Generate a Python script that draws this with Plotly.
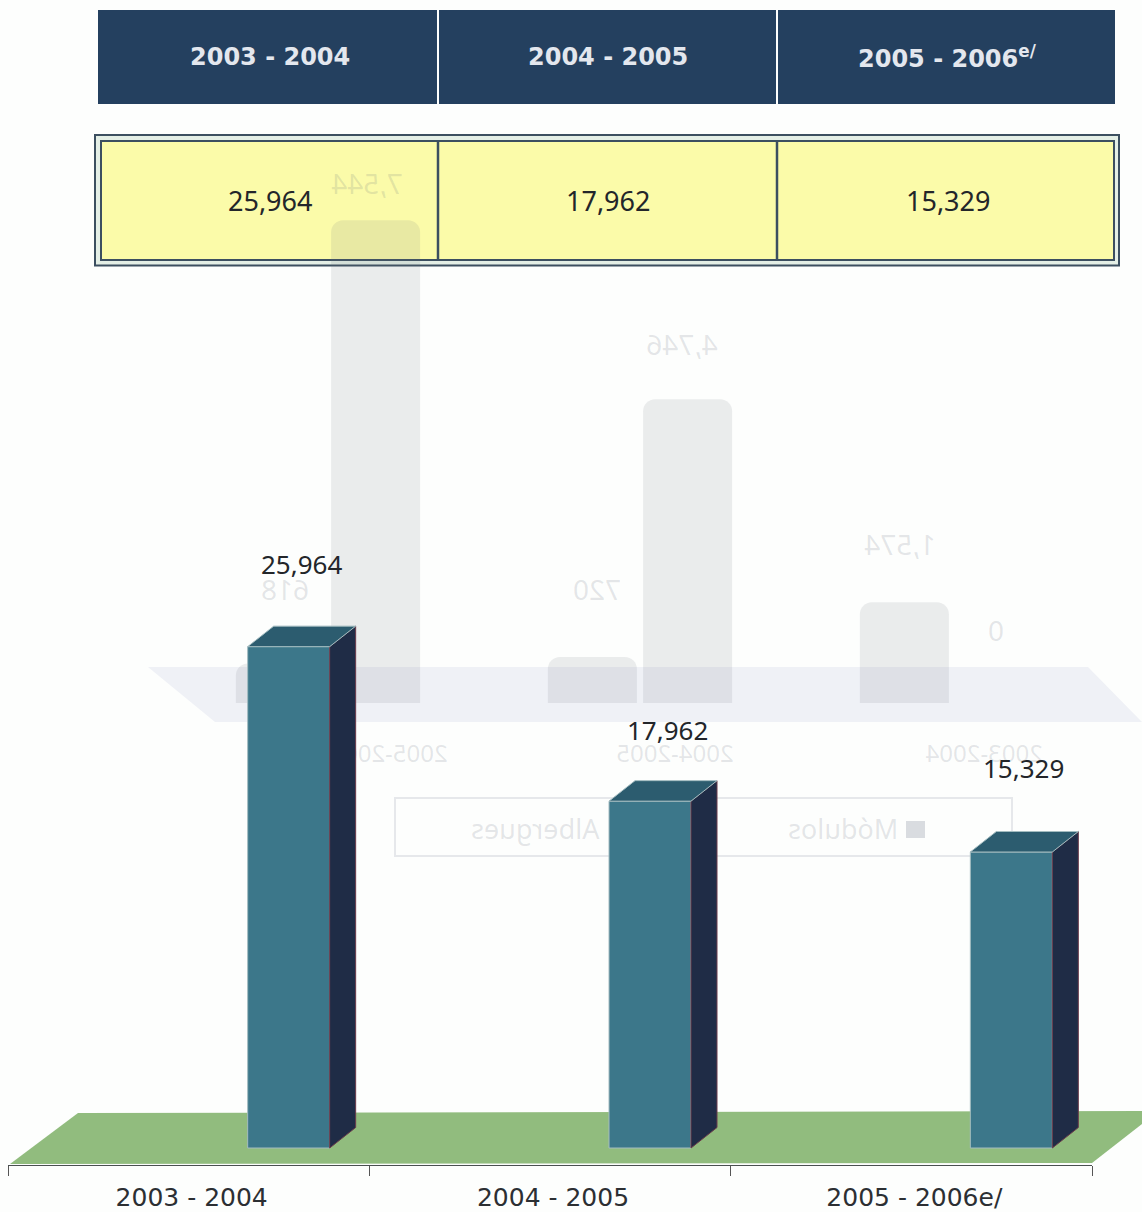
import plotly.graph_objects as go

# ---- data ----
CATEGORIES = ["2003 - 2004", "2004 - 2005", "2005 - 2006e/"]
HEADERS = ["2003 - 2004", "2004 - 2005", "2005 - 2006<sup>e/</sup>"]
VALUES = [25964, 17962, 15329]
VALUE_TEXT = ["25,964", "17,962", "15,329"]
# faint show-through of a mirrored chart on the back of the scanned page
GHOST_CATEGORIES = ["2003-2004", "2004-2005", "2005-2006"]
GHOST_MODULOS = [0, 4746, 7544]
GHOST_ALBERGUES = [1574, 720, 618]

W, H = 1142, 1212
def px(p): return p / W
def py(p): return 1 - p / H

# ---- style / geometry ----
FONT = "Noto Sans"
NAVY, YELLOW, RULE = "#24405f", "#fbfba9", "#3c4f60"
FRONT, TOP, SIDE = "#3c778a", "#2c5c6f", "#1f2c46"
EDGE, GREEN = "#a3bcc0", "#91bc7e"
GHOST_BAR = "rgba(105,115,125,0.13)"
GHOST_TEXT = "rgba(95,105,120,0.17)"

AX_L, AX_R, AX_Y, BASE_Y = 8, 1092, 1165, 1148     # main axis placement, px
UNIT_X = (AX_R - AX_L) / 3
K = 0.01931                                        # px per unit
BAR_W = 82 / UNIT_X
BAR_OFF = 59 / UNIT_X
DX, DY = 26 / UNIT_X, 20.5 / K                     # 3-D depth
LABEL_DX = [113 / UNIT_X, 117 / UNIT_X, 112 / UNIT_X]
LABEL_LIFT = [83, 71, 84]
TICK_SHIFT = 3 / UNIT_X

G_BASE, G_K, G_AX = 703, 0.064, 735                # ghost axes
G_X0, G_UNIT = 952, 312
G_W = 89 / G_UNIT
G_TICK_PX = [984, 675, 389]
G_MOD_LABEL_PX = [996, 682, 367]
G_ALB_LABEL_PX = [900, 597, 285]
G_MOD_LIFT = [69, 51, 33]
G_ALB_LIFT = [54, 64, 70]
def gx(p): return (G_X0 - p) / G_UNIT

fig = go.Figure()

# ---- ghost chart (drawn first, mirrored) ----
xg = list(range(3))
fig.add_trace(go.Bar(x=xg, y=GHOST_MODULOS, width=G_W, offset=-G_W - 0.01, marker=dict(color=GHOST_BAR, cornerradius=12, line_width=0), hoverinfo="skip", xaxis="x", yaxis="y", showlegend=False))
fig.add_trace(go.Bar(x=xg, y=GHOST_ALBERGUES, width=G_W, offset=0.01, marker=dict(color=GHOST_BAR, cornerradius=12, line_width=0), hoverinfo="skip", xaxis="x", yaxis="y", showlegend=False))
def ghost_labels(vals, label_px, lifts):
    fig.add_trace(go.Scatter(
        x=[gx(p) for p in label_px], y=[v + l / G_K for v, l in zip(vals, lifts)], mode="text",
        text=[f"{v:,}" for v in vals], textposition="middle center",
        textfont=dict(family=FONT, size=28, color=GHOST_TEXT),
        cliponaxis=False, hoverinfo="skip", xaxis="x", yaxis="y", showlegend=False))
ghost_labels(GHOST_MODULOS, G_MOD_LABEL_PX, G_MOD_LIFT)
ghost_labels(GHOST_ALBERGUES, G_ALB_LABEL_PX, G_ALB_LIFT)

# ---- main chart ----
X = list(range(3))
fig.add_trace(go.Bar(x=X, y=VALUES, width=BAR_W, offset=BAR_OFF,
                     marker=dict(color=FRONT, line=dict(color=EDGE, width=1)),
                     hoverinfo="skip", xaxis="x2", yaxis="y2", showlegend=False))
for i, v in zip(X, VALUES):
    l, r = i + BAR_OFF, i + BAR_OFF + BAR_W
    fig.add_trace(go.Scatter(x=[r, r + DX, r + DX, r, r], y=[0, DY, v + DY, v, 0], fill="toself",
                             fillcolor=SIDE, mode="lines", line=dict(color="#6b3b4b", width=1),
                             hoverinfo="skip", xaxis="x2", yaxis="y2", showlegend=False))
    fig.add_trace(go.Scatter(x=[l, r, r + DX, l + DX, l], y=[v, v, v + DY, v + DY, v], fill="toself",
                             fillcolor=TOP, mode="lines", line=dict(color=EDGE, width=1),
                             hoverinfo="skip", xaxis="x2", yaxis="y2", showlegend=False))

# ---- static page furniture ----
def rect(x0, y0, x1, y1, fill, line="rgba(0,0,0,0)", lw=0, layer="below"):
    return dict(type="rect", xref="paper", yref="paper", x0=px(x0), x1=px(x1), y0=py(y0), y1=py(y1),
                fillcolor=fill, line=dict(color=line, width=lw), layer=layer)

def poly(points, fill):
    d = "M " + " L ".join(f"{px(a):.5f},{py(b):.5f}" for a, b in points) + " Z"
    return dict(type="path", xref="paper", yref="paper", path=d, fillcolor=fill, line_width=0, layer="below")

shapes = [
    poly([(148, 667), (1088, 667), (1142, 722), (215, 722)], "#eff1f6"),      # ghost floor
    rect(395, 798, 1012, 856, "rgba(0,0,0,0)", "#e6e8eb", 2),                 # ghost legend
    rect(906, 821, 925, 838, "#d9dce0"),
    poly([(10, 1164), (78, 1113), (1142, 1111), (1142, 1124), (1092, 1163)], GREEN),  # floor
]
# header row
for a, b in [(98, 437), (439, 776), (778, 1115)]:
    shapes.append(rect(a, 10, b, 104, NAVY))
# yellow row with double border
shapes.append(rect(95, 135, 1119, 265.5, "#e4efe6", RULE, 2))
shapes.append(rect(101, 141, 1114, 260, YELLOW, RULE, 2))
for x in (438, 777):
    shapes.append(dict(type="line", xref="paper", yref="paper", x0=px(x), x1=px(x), y0=py(141), y1=py(260),
                       line=dict(color=RULE, width=2.5), layer="below"))

ann = []
CENTER = dict(xanchor="center", yanchor="middle", showarrow=False)
for cx, t in zip((270, 608, 947), HEADERS):
    ann.append(dict(xref="paper", yref="paper", x=px(cx), y=py(57), text=f"<b>{t}</b>",
                    font=dict(family="DejaVu Sans", size=24, color="#e3e7ee"), **CENTER))
for cx, t in zip((270, 608, 948), VALUE_TEXT):
    ann.append(dict(xref="paper", yref="paper", x=px(cx), y=py(200), text=t,
                    font=dict(family=FONT, size=27, color="#23262a"), **CENTER))
for i, v, t, dx, lift in zip(X, VALUES, VALUE_TEXT, LABEL_DX, LABEL_LIFT):
    ann.append(dict(xref="x2", yref="y2", x=i + dx, y=v, yshift=lift, text=t,
                    font=dict(family=FONT, size=26, color="#23262a"), **CENTER))
n_plain = len(ann)
for cx, t in ((843, "Módulos"), (535, "Albergues")):
    ann.append(dict(xref="paper", yref="paper", x=px(cx), y=py(828), text=t,
                    font=dict(family=FONT, size=27, color=GHOST_TEXT), **CENTER))

fig.update_layout(
    width=W, height=H, margin=dict(l=0, r=0, t=0, b=0),
    paper_bgcolor="#fdfefd", plot_bgcolor="rgba(0,0,0,0)",
    barmode="overlay", shapes=shapes, annotations=ann, hovermode=False, showlegend=False,
    # ghost axes: mirrored, x grows to the left
    xaxis=dict(domain=[0, 1], range=[G_X0 / G_UNIT, (G_X0 - W) / G_UNIT], anchor="y",
               tickmode="array", tickvals=[gx(p) for p in G_TICK_PX], ticktext=GHOST_CATEGORIES, ticks="",
               tickangle=0,
               tickfont=dict(family=FONT, size=24, color=GHOST_TEXT), ticklabelstandoff=2,
               showgrid=False, zeroline=False, showline=False, automargin=False),
    yaxis=dict(domain=[py(G_AX), 1], range=[(G_BASE - G_AX) / G_K, G_BASE / G_K], anchor="x",
               visible=False, automargin=False),
    # main axes
    xaxis2=dict(domain=[px(AX_L), px(AX_R)], range=[-0.5, 2.5], anchor="y2",
                tickmode="array", tickvals=[i + TICK_SHIFT for i in X], ticktext=CATEGORIES, ticks="",
                tickangle=0,
                tickfont=dict(family="DejaVu Sans", size=25, color="#2c2f33"), ticklabelstandoff=10,
                minor=dict(tickmode="array", tickvals=[-0.5, 0.5, 1.5, 2.5], ticks="outside", ticklen=10,
                           tickcolor="#555", tickwidth=1, showgrid=False),
                showgrid=False, zeroline=False, showline=True, linecolor="#4a5050", linewidth=1, automargin=False),
    yaxis2=dict(domain=[py(AX_Y), 1], range=[(BASE_Y - AX_Y) / K, BASE_Y / K], anchor="x2",
                visible=False, automargin=False),
)

MIRROR = """
document.body.style.margin = '0';
var gd = document.getElementById('{plot_id}');
var els = [];
gd.querySelectorAll('.xy .textpoint text').forEach(function(e){ els.push(e); });
gd.querySelectorAll('.xaxislayer-above .xtick text').forEach(function(e){
  if (e.closest('.xy')) els.push(e);
});
gd.querySelectorAll('.annotation').forEach(function(a){
  if (+a.getAttribute('data-index') >= %d) { var t = a.querySelector('text'); if (t) els.push(t); }
});
els.forEach(function(t){
  var b = t.getBBox(), c = b.x + b.width / 2, old = t.getAttribute('transform') || '';
  t.setAttribute('transform', old + ' translate(' + (2 * c) + ' 0) scale(-1 1)');
});
""" % n_plain

fig.write_html("out.html", post_script=MIRROR, config={"displayModeBar": False})
